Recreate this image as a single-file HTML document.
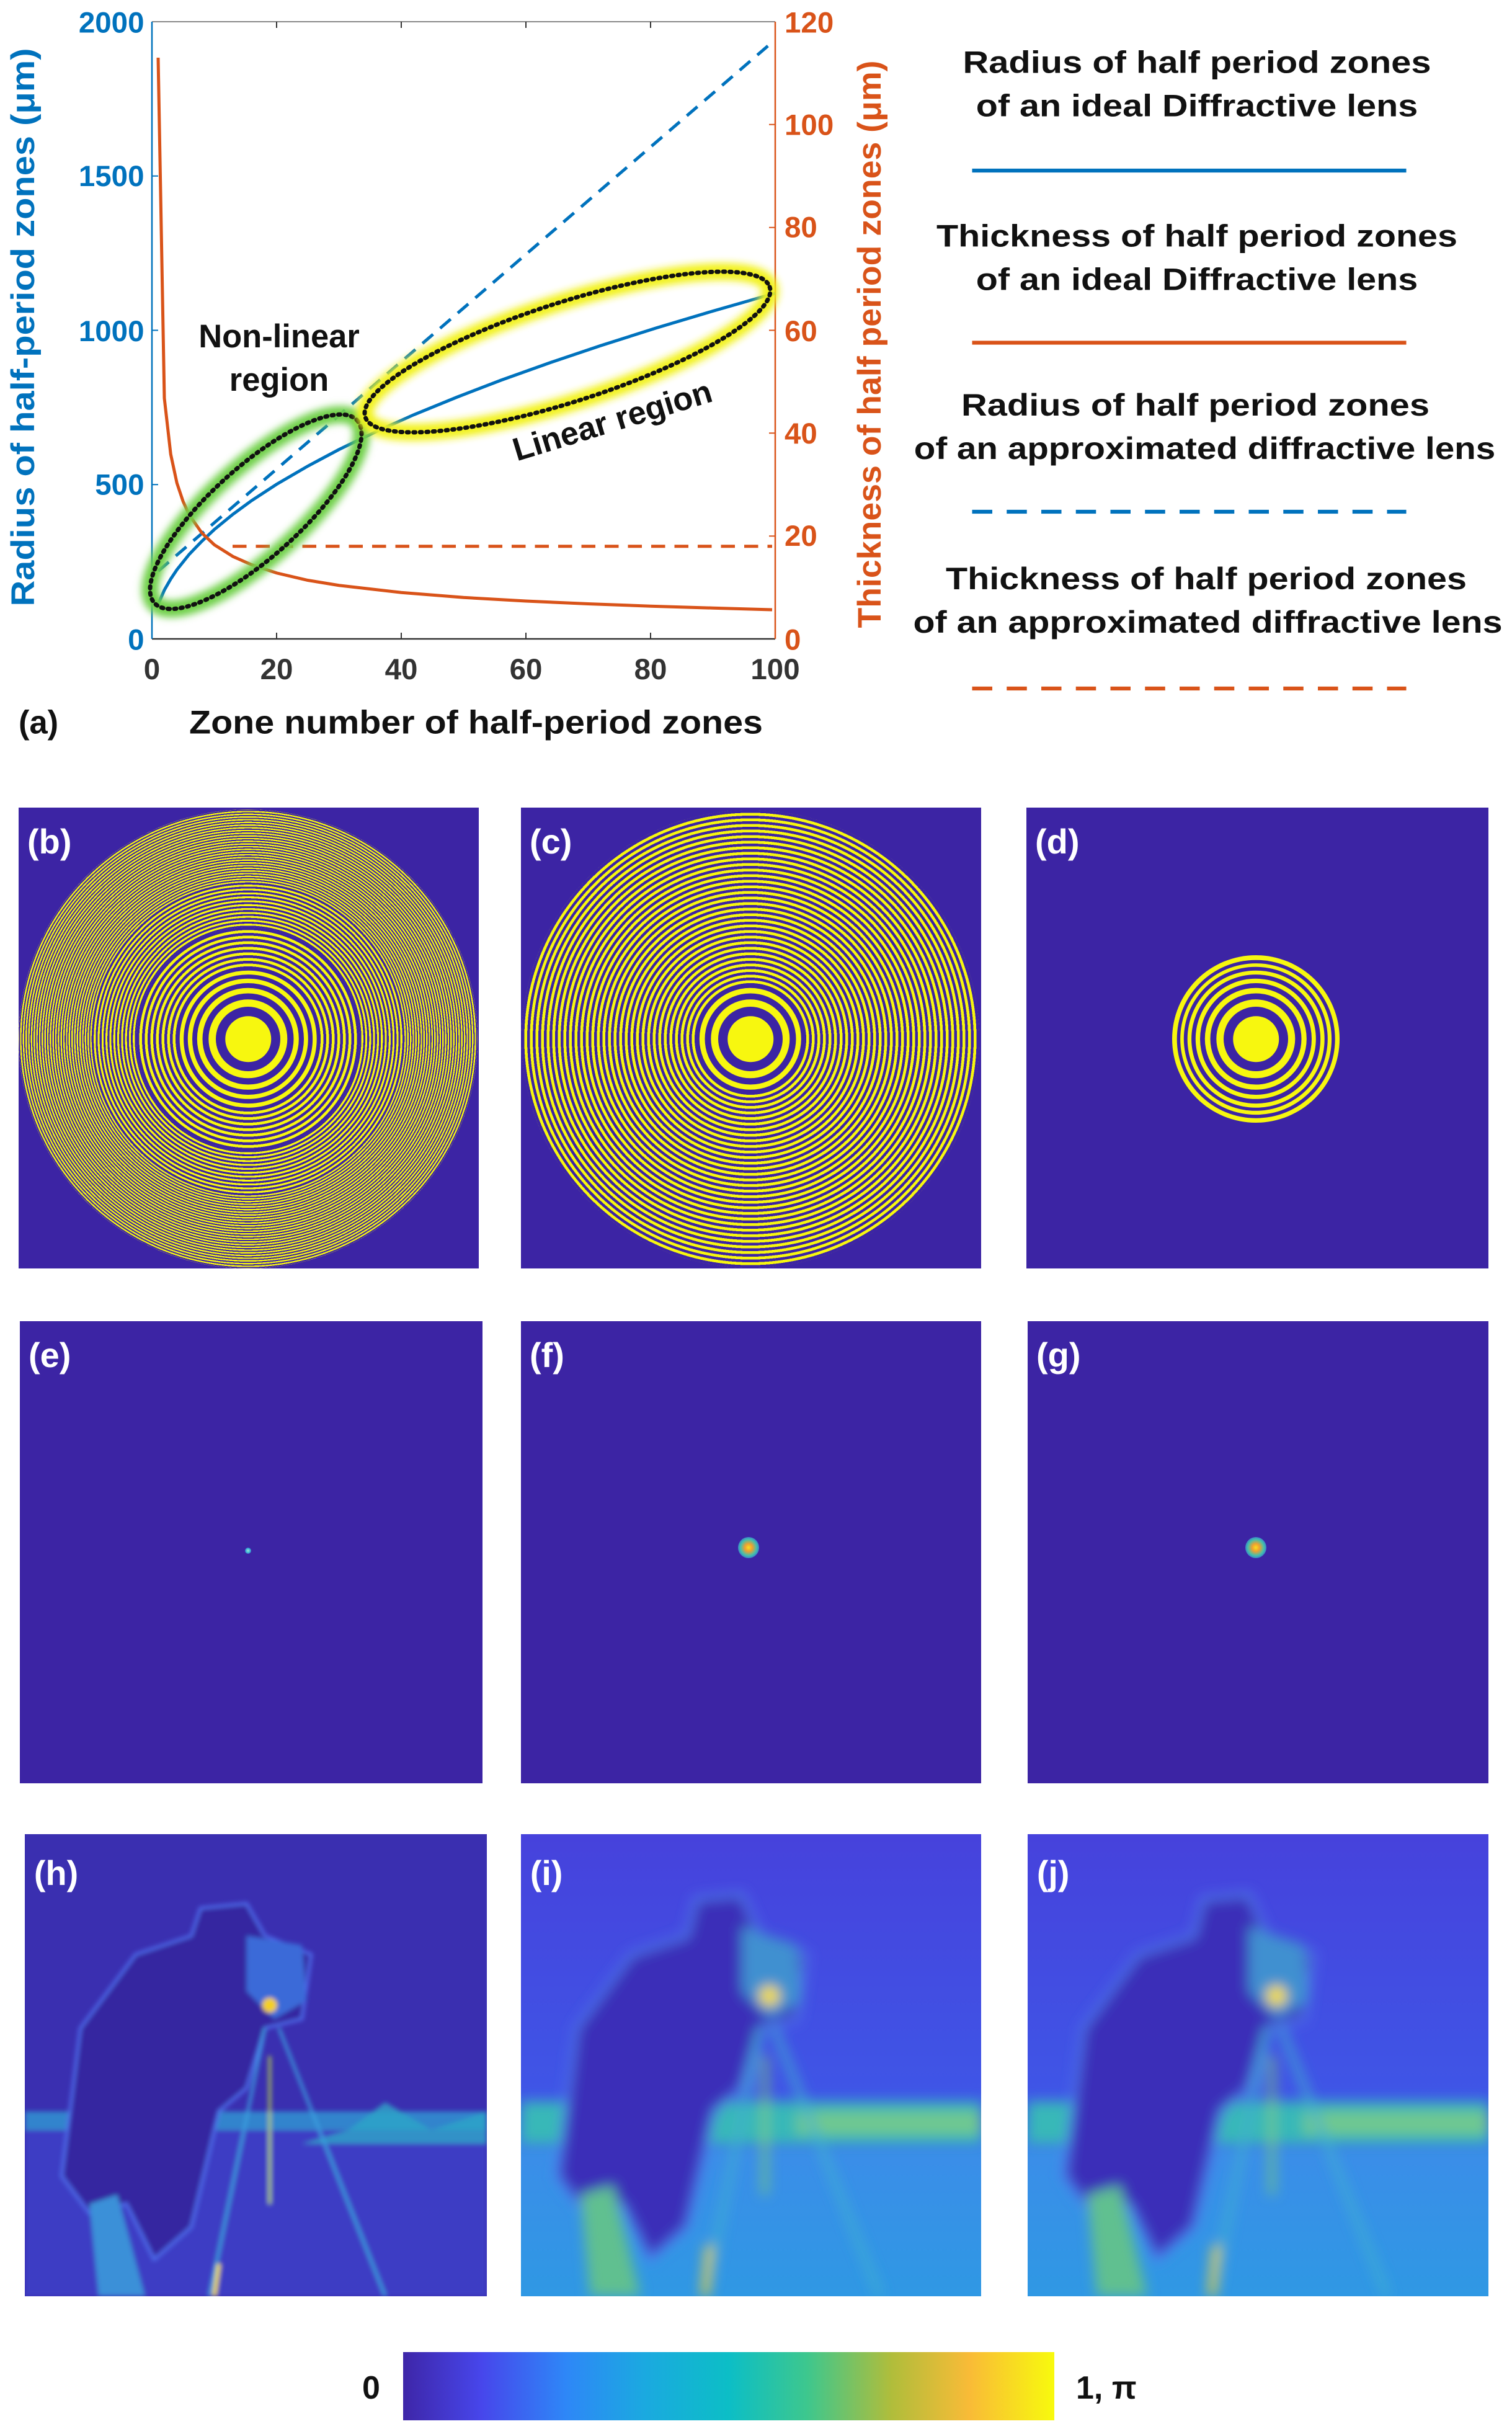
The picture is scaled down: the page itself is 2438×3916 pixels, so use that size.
<!DOCTYPE html>
<html><head><meta charset="utf-8"><style>
html,body{margin:0;padding:0;background:#fff;}
body{width:2438px;height:3916px;position:relative;overflow:hidden;font-family:"Liberation Sans",Arial,sans-serif;}
.p{position:absolute;background:#3c24a4;overflow:hidden;}
.d{position:absolute;border-radius:50%;transform:translate(-50%,-50%);}
.lab{position:absolute;color:#fff;font-weight:bold;font-size:56px;}
.Y{background:#f7f70f;}.B{background:#3c24a4;}
</style></head><body>

<svg style="position:absolute;left:0;top:0" width="2438" height="1250" viewBox="0 0 975.2 500" font-family="Liberation Sans, Arial, sans-serif" font-weight="bold">
<defs><filter id="gl" x="-20%" y="-40%" width="140%" height="180%"><feGaussianBlur stdDeviation="2.5"/></filter></defs>
<line x1="98" y1="14" x2="500" y2="14" stroke="#888" stroke-width="0.8"/>
<line x1="98" y1="412" x2="500" y2="412" stroke="#333" stroke-width="1"/>
<line x1="98" y1="14" x2="98" y2="412" stroke="#0072BD" stroke-width="1"/>
<line x1="500" y1="14" x2="500" y2="412" stroke="#D95319" stroke-width="1"/>
<g stroke="#333" stroke-width="0.8">
<line x1="178.4" y1="412" x2="178.4" y2="408"/><line x1="258.8" y1="412" x2="258.8" y2="408"/><line x1="339.2" y1="412" x2="339.2" y2="408"/><line x1="419.6" y1="412" x2="419.6" y2="408"/>
<line x1="178.4" y1="14" x2="178.4" y2="18"/><line x1="258.8" y1="14" x2="258.8" y2="18"/><line x1="339.2" y1="14" x2="339.2" y2="18"/><line x1="419.6" y1="14" x2="419.6" y2="18"/>
</g>
<g stroke="#0072BD" stroke-width="0.8"><line x1="98" y1="312.5" x2="102" y2="312.5"/><line x1="98" y1="213" x2="102" y2="213"/><line x1="98" y1="113.5" x2="102" y2="113.5"/></g>
<g stroke="#D95319" stroke-width="0.8"><line x1="500" y1="345.7" x2="496" y2="345.7"/><line x1="500" y1="279.3" x2="496" y2="279.3"/><line x1="500" y1="213" x2="496" y2="213"/><line x1="500" y1="146.7" x2="496" y2="146.7"/><line x1="500" y1="80.3" x2="496" y2="80.3"/></g>
<g fill="#0072BD" font-size="19" text-anchor="end">
<text x="93" y="419">0</text><text x="93" y="319">500</text><text x="93" y="220">1000</text><text x="93" y="120">1500</text><text x="93" y="21">2000</text></g>
<g fill="#D95319" font-size="19" text-anchor="start">
<text x="506" y="419">0</text><text x="506" y="352">20</text><text x="506" y="286">40</text><text x="506" y="220">60</text><text x="506" y="153">80</text><text x="506" y="87">100</text><text x="506" y="21">120</text></g>
<g fill="#333" font-size="19" text-anchor="middle">
<text x="98" y="438">0</text><text x="178.4" y="438">20</text><text x="258.8" y="438">40</text><text x="339.2" y="438">60</text><text x="419.6" y="438">80</text><text x="500" y="438">100</text></g>
<text x="307" y="473" font-size="21" text-anchor="middle" fill="#111" textLength="370" lengthAdjust="spacingAndGlyphs">Zone number of half-period zones</text>
<text x="12" y="473" font-size="21" fill="#111">(a)</text>
<text transform="translate(22,211) rotate(-90)" font-size="21" text-anchor="middle" fill="#0072BD" textLength="360" lengthAdjust="spacingAndGlyphs">Radius of half-period zones (μm)</text>
<text transform="translate(568,222) rotate(-90)" font-size="21" text-anchor="middle" fill="#D95319" textLength="366" lengthAdjust="spacingAndGlyphs">Thickness of half period zones (μm)</text>
<polyline fill="none" stroke="#0072BD" stroke-width="2" points="102,389.7 106,380.5 110.1,373.4 114.1,367.4 122.1,357.4 130.2,349 138.2,341.5 150.3,331.6 162.3,322.8 178.4,312.3 198.5,300.6 218.6,289.9 242.7,278.3 266.8,267.5 295,256 323.1,245.2 355.3,233.7 387.4,222.9 423.6,211.4 459.8,200.6 500,189.1"/>
<line x1="102" y1="368.3" x2="496" y2="29" stroke="#0072BD" stroke-width="2" stroke-dasharray="9,6"/>
<polyline fill="none" stroke="#D95319" stroke-width="2" points="102,37.2 106,256.8 110.1,292.9 114.1,311.5 118.1,323.4 122.1,332.1 130.2,343.7 138.2,351.3 150.3,358.9 162.3,364.2 178.4,369.5 198.5,374.2 218.6,377.5 258.8,382.1 299,385.3 339.2,387.6 379.4,389.4 419.6,390.9 459.8,392.1 498,393.2"/>
<line x1="150" y1="352.3" x2="498" y2="352.3" stroke="#D95319" stroke-width="2" stroke-dasharray="9,6"/>
<ellipse cx="165" cy="330" rx="88" ry="29" transform="rotate(-42 165 330)" fill="none" stroke="#6fd04a" stroke-width="11" filter="url(#gl)"/>
<ellipse cx="165" cy="330" rx="88" ry="29" transform="rotate(-42 165 330)" fill="none" stroke="#111" stroke-width="2.8" stroke-dasharray="1.2,3" stroke-linecap="round"/>
<ellipse cx="366" cy="227" rx="137" ry="32" transform="rotate(-17.8 366 227)" fill="none" stroke="#f2f21e" stroke-width="11" filter="url(#gl)"/>
<ellipse cx="366" cy="227" rx="137" ry="32" transform="rotate(-17.8 366 227)" fill="none" stroke="#111" stroke-width="2.8" stroke-dasharray="1.2,3" stroke-linecap="round"/>
<text x="180" y="224" font-size="21" text-anchor="middle" fill="#111">Non-linear</text>
<text x="180" y="252" font-size="21" text-anchor="middle" fill="#111">region</text>
<text transform="translate(397,278) rotate(-17)" font-size="21" text-anchor="middle" fill="#111">Linear region</text>
<g font-size="20" fill="#111" text-anchor="middle">
<text x="772" y="47" textLength="302" lengthAdjust="spacingAndGlyphs">Radius of half period zones</text>
<text x="772" y="75" textLength="285" lengthAdjust="spacingAndGlyphs">of an ideal Diffractive lens</text>
<text x="772" y="159" textLength="336" lengthAdjust="spacingAndGlyphs">Thickness of half period zones</text>
<text x="772" y="187" textLength="285" lengthAdjust="spacingAndGlyphs">of an ideal Diffractive lens</text>
<text x="771" y="268" textLength="302" lengthAdjust="spacingAndGlyphs">Radius of half period zones</text>
<text x="777" y="296" textLength="375" lengthAdjust="spacingAndGlyphs">of an approximated diffractive lens</text>
<text x="778" y="380" textLength="336" lengthAdjust="spacingAndGlyphs">Thickness of half period zones</text>
<text x="779" y="408" textLength="380" lengthAdjust="spacingAndGlyphs">of an approximated diffractive lens</text>
</g>
<line x1="627" y1="110" x2="907" y2="110" stroke="#0072BD" stroke-width="2.5"/>
<line x1="627" y1="221" x2="907" y2="221" stroke="#D95319" stroke-width="2.5"/>
<line x1="627" y1="330" x2="907" y2="330" stroke="#0072BD" stroke-width="2.5" stroke-dasharray="13,9.3"/>
<line x1="627" y1="444" x2="907" y2="444" stroke="#D95319" stroke-width="2.5" stroke-dasharray="13,9.3"/>
</svg>

<div class="p" style="left:30px;top:1302px;width:742px;height:743px;">
 <div class="d" style="left:370px;top:373px;width:740px;height:740px;background:repeating-radial-gradient(circle,#f7f70f 0 2.3px,#3c24a4 2.3px 4.35px);"></div>
 <div class="d" style="left:370px;top:373px;width:504px;height:504px;background:repeating-radial-gradient(circle,#f7f70f 0 3.15px,#3c24a4 3.15px 6.3px);"></div>
 <div class="d" style="left:370px;top:373px;width:360px;height:360px;background:repeating-radial-gradient(circle,#f7f70f 0 4.5px,#3c24a4 4.5px 9px);"></div>
 <div class="d" style="left:370px;top:373px;width:240px;height:240px;background:repeating-radial-gradient(circle,#f7f70f 0 6.5px,#3c24a4 6.5px 13px);"></div>
 <div class="d B" style="left:370px;top:373px;width:232.4px;height:232.4px;"></div>
 <div class="d Y" style="left:370px;top:373px;width:220.6px;height:220.6px;"></div>
 <div class="d B" style="left:370px;top:373px;width:207.8px;height:207.8px;"></div>
 <div class="d Y" style="left:370px;top:373px;width:194.4px;height:194.4px;"></div>
 <div class="d B" style="left:370px;top:373px;width:180px;height:180px;"></div>
 <div class="d Y" style="left:370px;top:373px;width:164.4px;height:164.4px;"></div>
 <div class="d B" style="left:370px;top:373px;width:147px;height:147px;"></div>
 <div class="d Y" style="left:370px;top:373px;width:127.4px;height:127.4px;"></div>
 <div class="d B" style="left:370px;top:373px;width:104px;height:104px;"></div>
 <div class="d Y" style="left:370px;top:373px;width:73.5px;height:73.5px;"></div>
 <div class="lab" style="left:14px;top:22px;">(b)</div>
</div>

<div class="p" style="left:840px;top:1302px;width:742px;height:743px;">
 <div class="d" style="left:370px;top:373px;width:738px;height:738px;background:repeating-radial-gradient(circle,#f7f70f 0 4.6px,#3c24a4 4.6px 9px);"></div>
 <div class="d B" style="left:370px;top:373px;width:180px;height:180px;"></div>
 <div class="d Y" style="left:370px;top:373px;width:164.4px;height:164.4px;"></div>
 <div class="d B" style="left:370px;top:373px;width:147px;height:147px;"></div>
 <div class="d Y" style="left:370px;top:373px;width:127.4px;height:127.4px;"></div>
 <div class="d B" style="left:370px;top:373px;width:104px;height:104px;"></div>
 <div class="d Y" style="left:370px;top:373px;width:73.5px;height:73.5px;"></div>
 <div class="lab" style="left:14px;top:22px;">(c)</div>
</div>

<div class="p" style="left:1655px;top:1302px;width:745px;height:743px;">
 <div class="d Y" style="left:370px;top:373px;width:270px;height:270px;"></div>
 <div class="d B" style="left:370px;top:373px;width:254.6px;height:254.6px;"></div>
 <div class="d Y" style="left:370px;top:373px;width:243.8px;height:243.8px;"></div>
 <div class="d B" style="left:370px;top:373px;width:232.4px;height:232.4px;"></div>
 <div class="d Y" style="left:370px;top:373px;width:220.6px;height:220.6px;"></div>
 <div class="d B" style="left:370px;top:373px;width:207.8px;height:207.8px;"></div>
 <div class="d Y" style="left:370px;top:373px;width:194.4px;height:194.4px;"></div>
 <div class="d B" style="left:370px;top:373px;width:180px;height:180px;"></div>
 <div class="d Y" style="left:370px;top:373px;width:164.4px;height:164.4px;"></div>
 <div class="d B" style="left:370px;top:373px;width:147px;height:147px;"></div>
 <div class="d Y" style="left:370px;top:373px;width:127.4px;height:127.4px;"></div>
 <div class="d B" style="left:370px;top:373px;width:104px;height:104px;"></div>
 <div class="d Y" style="left:370px;top:373px;width:73.5px;height:73.5px;"></div>
 <div class="lab" style="left:14px;top:22px;">(d)</div>
</div>

<div class="p" style="left:32px;top:2130px;width:746px;height:745px;">
 <div class="d" style="left:368px;top:370px;width:10px;height:10px;background:radial-gradient(circle,#9ef0d0 0,#3ab0d8 50%,#3c24a4 100%);"></div>
 <div class="lab" style="left:14px;top:22px;">(e)</div>
</div>
<div class="p" style="left:840px;top:2130px;width:742px;height:745px;">
 <div class="d" style="left:367px;top:365px;width:34px;height:34px;background:radial-gradient(circle,#f8e020 0,#f0a030 25%,#40c0b0 55%,#3c60d0 80%,#3c24a4 100%);"></div>
 <div class="lab" style="left:14px;top:22px;">(f)</div>
</div>
<div class="p" style="left:1657px;top:2130px;width:743px;height:745px;">
 <div class="d" style="left:368px;top:365px;width:34px;height:34px;background:radial-gradient(circle,#f8e020 0,#f0a030 25%,#40c0b0 55%,#3c60d0 80%,#3c24a4 100%);"></div>
 <div class="lab" style="left:14px;top:22px;">(g)</div>
</div>

<svg style="position:absolute;left:40px;top:2957px" width="745" height="745" viewBox="0 0 100 100" preserveAspectRatio="none">
<defs><filter id="b1"><feGaussianBlur stdDeviation="0.5"/></filter></defs>
<rect width="100" height="100" fill="#3a2fb0"/>
<g filter="url(#b1)">
<rect x="0" y="64" width="100" height="36" fill="#3c3ec4"/>
<rect x="0" y="60" width="100" height="4" fill="#2fa8d8" opacity="0.7"/>
<polygon points="70,64 78,58 88,64 100,60 100,67 60,67" fill="#2ea6c8" opacity="0.8"/>
<polygon points="38,16 48,15 52,22 62,26 60,40 52,42 48,55 42,60 36,85 28,92 22,80 14,82 8,74 12,42 24,26 36,22" fill="#3526a0" stroke="#4f6ef0" stroke-width="0.6"/>
<polygon points="48,22 60,24 61,36 54,40 48,34" fill="#3a6ad8"/>
<circle cx="53" cy="37" r="1.6" fill="#f5d020"/>
<line x1="52" y1="42" x2="40" y2="100" stroke="#3aa0e0" stroke-width="0.6"/>
<line x1="53" y1="48" x2="53" y2="80" stroke="#c0e040" stroke-width="0.5"/>
<line x1="55" y1="42" x2="78" y2="100" stroke="#3aa0e0" stroke-width="0.6"/>
<line x1="42" y1="93" x2="41" y2="100" stroke="#f5e020" stroke-width="0.8"/>
<polygon points="14,80 20,78 26,100 16,100" fill="#3a90d8"/>
</g>
<text x="2" y="11" fill="#fff" font-family="Liberation Sans, Arial, sans-serif" font-weight="bold" font-size="7.5">(h)</text>
</svg>

<svg style="position:absolute;left:840px;top:2957px" width="742" height="745" viewBox="0 0 100 100" preserveAspectRatio="none">
<defs><filter id="b2"><feGaussianBlur stdDeviation="1.4"/></filter>
<linearGradient id="g2" x1="0" y1="0" x2="0" y2="1"><stop offset="0" stop-color="#4642dc"/><stop offset="0.55" stop-color="#3f55e6"/><stop offset="0.7" stop-color="#3a8ee8"/><stop offset="1" stop-color="#2f98e4"/></linearGradient></defs>
<rect width="100" height="100" fill="url(#g2)"/>
<g filter="url(#b2)">
<rect x="0" y="58" width="100" height="9" fill="#38b8b8"/>
<rect x="60" y="60" width="40" height="5" fill="#70c890"/>
<polygon points="38,14 48,13 52,22 62,26 60,40 52,42 48,55 42,60 36,85 28,92 22,80 14,82 8,74 12,42 24,26 36,22" fill="#3a2eb8" stroke="#4f7cf0" stroke-width="1"/>
<polygon points="48,20 60,24 61,36 54,40 48,34" fill="#3f90d0"/>
<circle cx="54" cy="35" r="2.2" fill="#f8e020"/>
<line x1="52" y1="42" x2="40" y2="100" stroke="#40b0d0" stroke-width="1.2"/>
<line x1="53" y1="48" x2="53" y2="78" stroke="#80d070" stroke-width="1"/>
<line x1="55" y1="42" x2="78" y2="100" stroke="#40b0d0" stroke-width="1.2"/>
<line x1="41" y1="89" x2="40" y2="100" stroke="#e8d030" stroke-width="1.6"/>
<polygon points="13,78 20,76 26,100 15,100" fill="#60c090"/>
</g>
<text x="2" y="11" fill="#fff" font-family="Liberation Sans, Arial, sans-serif" font-weight="bold" font-size="7.5">(i)</text>
</svg>

<svg style="position:absolute;left:1657px;top:2957px" width="743" height="745" viewBox="0 0 100 100" preserveAspectRatio="none">
<defs><filter id="b3"><feGaussianBlur stdDeviation="1.4"/></filter>
<linearGradient id="g3" x1="0" y1="0" x2="0" y2="1"><stop offset="0" stop-color="#4642dc"/><stop offset="0.55" stop-color="#3f55e6"/><stop offset="0.7" stop-color="#3a8ee8"/><stop offset="1" stop-color="#2f98e4"/></linearGradient></defs>
<rect width="100" height="100" fill="url(#g3)"/>
<g filter="url(#b3)">
<rect x="0" y="58" width="100" height="9" fill="#38b8b8"/>
<rect x="60" y="60" width="40" height="5" fill="#70c890"/>
<polygon points="38,14 48,13 52,22 62,26 60,40 52,42 48,55 42,60 36,85 28,92 22,80 14,82 8,74 12,42 24,26 36,22" fill="#3a2eb8" stroke="#4f7cf0" stroke-width="1"/>
<polygon points="48,20 60,24 61,36 54,40 48,34" fill="#3f90d0"/>
<circle cx="54" cy="35" r="2.2" fill="#f8e020"/>
<line x1="52" y1="42" x2="40" y2="100" stroke="#40b0d0" stroke-width="1.2"/>
<line x1="53" y1="48" x2="53" y2="78" stroke="#80d070" stroke-width="1"/>
<line x1="55" y1="42" x2="78" y2="100" stroke="#40b0d0" stroke-width="1.2"/>
<line x1="41" y1="89" x2="40" y2="100" stroke="#e8d030" stroke-width="1.6"/>
<polygon points="13,78 20,76 26,100 15,100" fill="#60c090"/>
</g>
<text x="2" y="11" fill="#fff" font-family="Liberation Sans, Arial, sans-serif" font-weight="bold" font-size="7.5">(j)</text>
</svg>

<div style="position:absolute;left:650px;top:3792px;width:1050px;height:110px;background:linear-gradient(to right,#3e26a8 0%,#4746eb 12%,#2e87f7 25%,#1ba9e0 37%,#0cbec6 50%,#3dc78e 62%,#b0bd3b 75%,#f9bb37 87%,#f8fa0d 100%);"></div>
<div style="position:absolute;left:584px;top:3820px;font-weight:bold;font-size:52px;color:#111;">0</div>
<div style="position:absolute;left:1735px;top:3820px;font-weight:bold;font-size:52px;color:#111;">1, π</div>
</body></html>
